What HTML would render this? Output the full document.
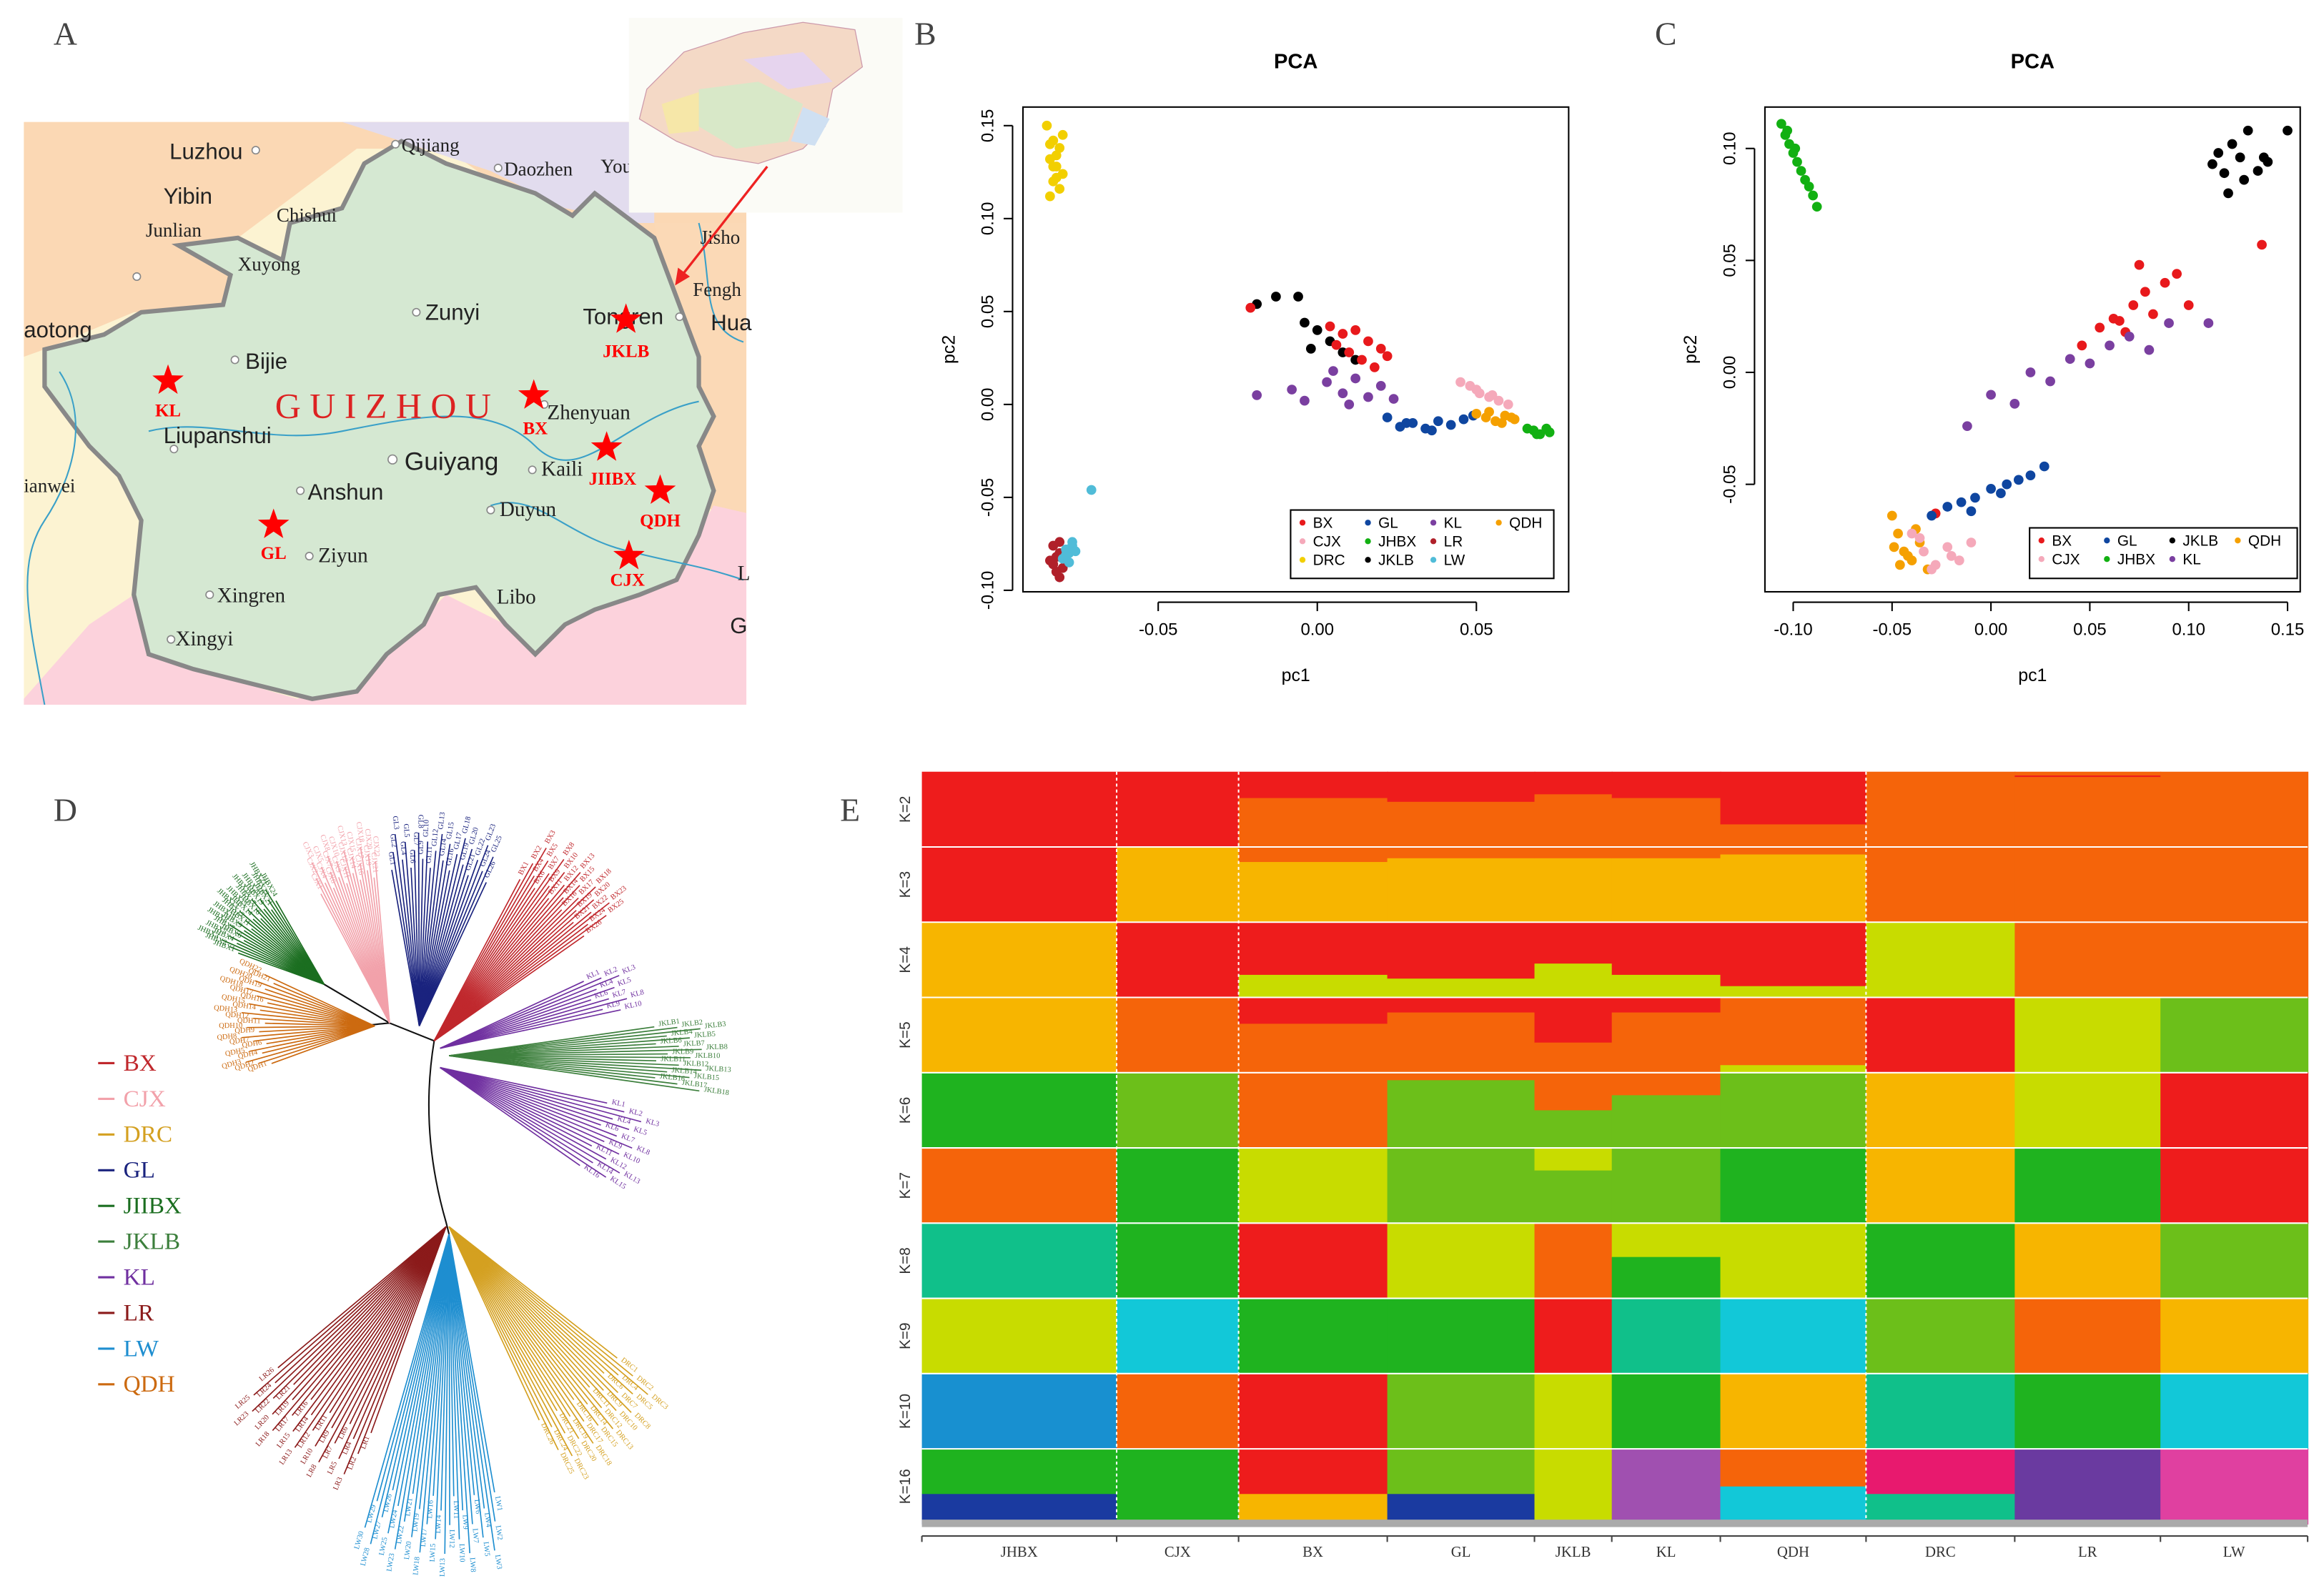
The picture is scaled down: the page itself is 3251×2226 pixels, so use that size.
<!DOCTYPE html>
<html><head><meta charset="utf-8">
<style>
html,body{margin:0;padding:0;background:#fff;}
svg{display:block;}
.ser{font-family:"Liberation Serif",serif;}
.san{font-family:"Liberation Sans",sans-serif;}
</style></head>
<body>
<svg id="fig" width="3251" height="2226" viewBox="0 0 1563 1070" preserveAspectRatio="none" xmlns="http://www.w3.org/2000/svg">
<rect x="0" y="0" width="1563" height="1070" fill="#fff"/>
<text class="ser" x="36" y="30" font-size="22" fill="#444">A</text>
<text class="ser" x="615" y="30" font-size="22" fill="#444">B</text>
<text class="ser" x="1113" y="30" font-size="22" fill="#444">C</text>
<text class="ser" x="36" y="552" font-size="22" fill="#444">D</text>
<text class="ser" x="565" y="552" font-size="22" fill="#444">E</text>

<g>
<clipPath id="mapclip"><rect x="16" y="82" width="486" height="392"/></clipPath>
<g clip-path="url(#mapclip)">
<rect x="16" y="82" width="486" height="392" fill="#fcf3d2"/>
<polygon points="16,82 502,82 502,300 440,200 300,100 240,100 160,160 150,205 90,210 30,235 16,240" fill="#fbd8b4"/>
<polygon points="230,82 440,82 440,150 430,150 380,140 330,115 270,95" fill="#e2dcee"/>
<polygon points="440,150 502,150 502,350 470,340 460,260" fill="#fbd9b6"/>
<polygon points="16,240 30,235 60,300 80,320 95,350 90,400 60,420 16,450" fill="#fcf3d2"/>
<polygon points="90,400 130,450 200,470 260,440 300,400 340,420 380,420 450,390 480,340 502,345 502,474 16,474 16,470 60,420" fill="#fcd2dc"/>
<polygon points="30,235 70,225 95,210 150,205 155,185 120,165 160,160 190,175 195,150 230,140 245,110 270,95 300,110 330,120 360,130 385,145 400,130 420,145 440,160 455,200 470,240 470,260 480,280 470,300 480,330 470,360 455,390 430,400 400,410 380,420 360,440 340,420 320,395 295,400 285,420 260,440 240,465 210,470 170,460 130,450 100,440 90,400 95,350 80,320 60,300 30,260" fill="#d5e8d2" stroke="#888" stroke-width="3"/>
<path d="M100,290 C140,280 180,300 230,290 S330,270 360,300 S420,280 470,270" fill="none" stroke="#3aa0c8" stroke-width="1"/>
<path d="M330,340 C360,330 380,360 420,370 S470,380 500,390" fill="none" stroke="#3aa0c8" stroke-width="1"/>
<path d="M470,150 C480,190 470,220 500,230" fill="none" stroke="#3aa0c8" stroke-width="1"/>
<path d="M40,250 C60,280 50,320 30,350 S20,420 30,474" fill="none" stroke="#3aa0c8" stroke-width="1"/>
</g>
<g class="ser" font-size="14" fill="#222">
<text x="114" y="107" class="san" font-size="15">Luzhou</text>
<text x="110" y="137" class="san" font-size="15">Yibin</text>
<text x="98" y="159" font-size="13">Junlian</text>
<text x="160" y="182" font-size="13">Xuyong</text>
<text x="186" y="149" font-size="13">Chishui</text>
<text x="270" y="102" font-size="13">Qijiang</text>
<text x="339" y="118" font-size="13">Daozhen</text>
<text x="404" y="116" font-size="13">You</text>
<text x="286" y="215" class="san" font-size="15">Zunyi</text>
<text x="392" y="218" class="san" font-size="15">Tongren</text>
<text x="471" y="164" font-size="13">Jisho</text>
<text x="466" y="199" font-size="13">Fengh</text>
<text x="478" y="222" class="san" font-size="15">Hua</text>
<text x="16" y="227" class="san" font-size="15">aotong</text>
<text x="165" y="248" class="san" font-size="15">Bijie</text>
<text x="110" y="298" class="san" font-size="15">Liupanshui</text>
<text x="272" y="316" class="san" font-size="17">Guiyang</text>
<text x="207" y="336" class="san" font-size="15">Anshun</text>
<text x="368" y="282" font-size="14">Zhenyuan</text>
<text x="364" y="320" font-size="14">Kaili</text>
<text x="336" y="347" font-size="14">Duyun</text>
<text x="214" y="378" font-size="14">Ziyun</text>
<text x="146" y="405" font-size="14">Xingren</text>
<text x="334" y="406" font-size="14">Libo</text>
<text x="118" y="434" font-size="14">Xingyi</text>
<text x="16" y="331" font-size="13">ianwei</text>
<text x="496" y="390" font-size="14">L</text>
<text x="491" y="426" class="san" font-size="15">G</text>
<text x="185" y="281" font-size="24" fill="#d22" letter-spacing="6">GUIZHOU</text>
</g>
<g fill="#fff" stroke="#888" stroke-width="0.8">
<circle cx="172" cy="101" r="2.5"/><circle cx="266" cy="97" r="2.5"/><circle cx="335" cy="113" r="2.5"/><circle cx="280" cy="210" r="2.5"/><circle cx="158" cy="242" r="2.5"/><circle cx="117" cy="302" r="2.5"/><circle cx="202" cy="330" r="2.5"/><circle cx="264" cy="309" r="3"/><circle cx="366" cy="272" r="2.5"/><circle cx="358" cy="316" r="2.5"/><circle cx="330" cy="343" r="2.5"/><circle cx="208" cy="374" r="2.5"/><circle cx="141" cy="400" r="2.5"/><circle cx="115" cy="430" r="2.5"/><circle cx="92" cy="186" r="2.5"/><circle cx="457" cy="213" r="2.5"/>
</g>
<g id="stars" font-family="Liberation Serif,serif" font-weight="bold" font-size="12" fill="#f00"></g>
<rect x="423" y="12" width="184" height="131" fill="#fbfbf6"/>
<path d="M435,60 L460,35 L500,22 L540,15 L575,20 L580,45 L560,60 L555,85 L540,100 L510,110 L480,105 L455,95 L430,80 Z" fill="#f4d9c6" stroke="#c9a" stroke-width="0.6"/>
<path d="M470,60 L510,55 L540,70 L530,95 L495,100 L470,85 Z" fill="#d8e8c8"/>
<path d="M500,40 L540,35 L560,55 L530,60 Z" fill="#e6d4ee"/>
<path d="M445,70 L470,62 L470,88 L450,90 Z" fill="#f6e7a8"/>
<path d="M540,72 L558,80 L548,98 L532,95 Z" fill="#cfe0f2"/>
<line x1="516" y1="112" x2="458" y2="186" stroke="#e22" stroke-width="1.6"/>
<polygon points="454,192 456,180 464,186" fill="#e22"/>
</g>

<g id="pcaB" class="san"></g>
<g id="pcaC" class="san"></g>
<g id="tree"></g>
<g id="treeLegend" class="ser"></g>
<g id="struct"></g>
</svg>
<script>
const NS="http://www.w3.org/2000/svg";
function mk(tag,attrs,parent,txt){const e=document.createElementNS(NS,tag);for(const k in attrs)e.setAttribute(k,attrs[k]);if(txt!==undefined)e.textContent=txt;parent.appendChild(e);return e;}

const starNames=["KL","GL","BX","JKLB","JIIBX","QDH","CJX"];
const starPos=[[113,256],[184,353],[359,266],[421,215],[408,301],[444,330],[423,374]];
const starLbl=[[113,280],[184,376],[360,292],[421,240],[412,326],[444,354],[422,394]];
(function(){const g=document.getElementById('stars');
starNames.forEach((n,i)=>{const [x,y]=starPos[i];let p=[];for(let k=0;k<10;k++){const r=k%2?4.5:11;const a=-Math.PI/2+k*Math.PI/5;p.push((x+r*Math.cos(a)).toFixed(1)+","+(y+r*Math.sin(a)).toFixed(1));}
const s=mk('polygon',{points:p.join(' '),fill:'#f00'},g);


const t=mk('text',{x:starLbl[i][0],y:starLbl[i][1],'text-anchor':'middle'},g,n);

});})();

const pcaGroups=["BX","CJX","DRC","GL","JHBX","JKLB","KL","LR","LW","QDH"];
const pcaColors={BX:"#e8191c",CJX:"#f5a9ba",DRC:"#f2cf00",GL:"#0f46a0",JHBX:"#12b012",JKLB:"#000",KL:"#7a3fa0",LR:"#b0202a",LW:"#50bcd8",QDH:"#f5a000"};
const pcaB_pc1={
DRC:[-0.085,-0.083,-0.081,-0.084,-0.082,-0.080,-0.083,-0.081,-0.084,-0.082,-0.080,-0.083,-0.082,-0.084],
LR:[-0.083,-0.081,-0.082,-0.084,-0.080,-0.082,-0.081,-0.083,-0.082,-0.081],
LW:[-0.079,-0.078,-0.077,-0.080,-0.076,-0.078,-0.077,-0.079,-0.071],
JKLB:[-0.019,-0.013,-0.006,-0.004,0.000,0.004,-0.002,0.008,0.012],
BX:[0.004,0.008,0.012,0.016,0.020,0.010,0.014,0.022,0.018,0.006,-0.021],
KL:[-0.019,-0.008,-0.004,0.003,0.008,0.012,0.016,0.020,0.024,0.010,0.005],
GL:[0.022,0.026,0.030,0.034,0.038,0.042,0.046,0.049,0.036,0.028],
CJX:[0.045,0.048,0.051,0.054,0.057,0.060,0.050,0.055],
QDH:[0.050,0.053,0.056,0.059,0.062,0.054,0.058,0.061],
JHBX:[0.066,0.068,0.070,0.072,0.073,0.069]};
const pcaB_pc2={
DRC:[0.150,0.142,0.138,0.132,0.128,0.124,0.120,0.116,0.112,0.134,0.145,0.128,0.122,0.140],
LR:[-0.076,-0.074,-0.082,-0.084,-0.088,-0.090,-0.093,-0.086,-0.090,-0.080],
LW:[-0.078,-0.080,-0.076,-0.083,-0.079,-0.085,-0.074,-0.081,-0.046],
JKLB:[0.054,0.058,0.058,0.044,0.040,0.034,0.030,0.028,0.024],
BX:[0.042,0.038,0.040,0.034,0.030,0.028,0.024,0.026,0.020,0.032,0.052],
KL:[0.005,0.008,0.002,0.012,0.006,0.014,0.004,0.010,0.003,0.000,0.018],
GL:[-0.007,-0.012,-0.010,-0.013,-0.009,-0.011,-0.008,-0.006,-0.014,-0.010],
CJX:[0.012,0.010,0.006,0.004,0.002,0.000,0.008,0.005],
QDH:[-0.005,-0.007,-0.009,-0.006,-0.008,-0.004,-0.010,-0.007],
JHBX:[-0.013,-0.014,-0.016,-0.013,-0.015,-0.016]};
const pcaB_xticks=[-0.05,0.00,0.05];
const pcaB_yticks=[-0.10,-0.05,0.00,0.05,0.10,0.15];
const pcaC_pc1={
JHBX:[-0.106,-0.104,-0.102,-0.100,-0.098,-0.096,-0.094,-0.092,-0.090,-0.088,-0.103,-0.099],
JKLB:[0.112,0.118,0.122,0.126,0.130,0.135,0.140,0.120,0.128,0.150,0.115,0.138],
BX:[0.046,0.055,0.062,0.068,0.072,0.078,0.082,0.088,0.094,0.100,0.075,0.065,0.137,-0.028],
KL:[-0.012,0.000,0.012,0.020,0.030,0.040,0.050,0.060,0.070,0.080,0.090,0.110],
GL:[-0.030,-0.022,-0.015,-0.008,0.000,0.008,0.014,0.020,0.027,-0.010,0.005],
QDH:[-0.050,-0.047,-0.044,-0.040,-0.036,-0.032,-0.046,-0.038,-0.042,-0.049],
CJX:[-0.040,-0.034,-0.028,-0.022,-0.016,-0.010,-0.030,-0.020,-0.036]};
const pcaC_pc2={
JHBX:[0.111,0.106,0.102,0.098,0.094,0.090,0.086,0.083,0.079,0.074,0.108,0.100],
JKLB:[0.093,0.089,0.102,0.096,0.108,0.090,0.094,0.080,0.086,0.108,0.098,0.096],
BX:[0.012,0.020,0.024,0.018,0.030,0.036,0.026,0.040,0.044,0.030,0.048,0.023,0.057,-0.063],
KL:[-0.024,-0.010,-0.014,0.000,-0.004,0.006,0.004,0.012,0.016,0.010,0.022,0.022],
GL:[-0.064,-0.060,-0.058,-0.056,-0.052,-0.050,-0.048,-0.046,-0.042,-0.062,-0.054],
QDH:[-0.064,-0.072,-0.080,-0.084,-0.076,-0.088,-0.086,-0.070,-0.082,-0.078],
CJX:[-0.072,-0.080,-0.086,-0.078,-0.084,-0.076,-0.088,-0.082,-0.074]};
const pcaC_xticks=[-0.10,-0.05,0.00,0.05,0.10,0.15];
const pcaC_yticks=[-0.05,0.00,0.05,0.10];

function drawPCA(gid,box,xs,ys,xt,yt,px,py,legend,legendBox,letter){
 const g=document.getElementById(gid);
 const X=v=>box.x0+(v-xs[0])/(xs[1]-xs[0])*(box.x1-box.x0);
 const Y=v=>box.y1-(v-ys[0])/(ys[1]-ys[0])*(box.y1-box.y0);
 const fr=mk('rect',{x:box.x0,y:box.y0,width:box.x1-box.x0,height:box.y1-box.y0,fill:'none',stroke:'#000','stroke-width':1},g);
 
 const tt=mk('text',{x:(box.x0+box.x1)/2,y:box.y0-26,'text-anchor':'middle','font-size':14,'font-weight':'bold'},g,'PCA');
 
 mk('line',{x1:X(xt[0]),x2:X(xt[xt.length-1]),y1:box.y1+7,y2:box.y1+7,stroke:'#000'},g);
 xt.forEach(v=>{mk('line',{x1:X(v),x2:X(v),y1:box.y1+7,y2:box.y1+13,stroke:'#000'},g);
  const t=mk('text',{x:X(v),y:box.y1+29,'text-anchor':'middle','font-size':11.5},g,v.toFixed(2));
  });
 mk('line',{y1:Y(yt[0]),y2:Y(yt[yt.length-1]),x1:box.x0-7,x2:box.x0-7,stroke:'#000'},g);
 yt.forEach(v=>{mk('line',{y1:Y(v),y2:Y(v),x1:box.x0-13,x2:box.x0-7,stroke:'#000'},g);
  const t=mk('text',{x:box.x0-20,y:Y(v),'text-anchor':'middle','font-size':11.5,transform:`rotate(-90 ${box.x0-20} ${Y(v)})`},g,v.toFixed(2));
  });
 const xl=mk('text',{x:(box.x0+box.x1)/2,y:box.y1+60,'text-anchor':'middle','font-size':12},g,'pc1');
 
 const yx=box.x0-46,yy=(box.y0+box.y1)/2;
 const yl=mk('text',{x:yx,y:yy,'text-anchor':'middle','font-size':12,transform:`rotate(-90 ${yx} ${yy})`},g,'pc2');
 
 for(const k in px){px[k].forEach((v,i)=>{const c=mk('circle',{cx:X(v),cy:Y(py[k][i]),r:3.3,fill:pcaColors[k]},g);
  });}
 const lb=mk('rect',{x:legendBox.x,y:legendBox.y,width:legendBox.w,height:legendBox.h,fill:'#fff',stroke:'#000'},g);
 
 legend.forEach((row,r)=>row.forEach((k,c)=>{const lx=legendBox.x+8+c*legendBox.cw,ly=legendBox.y+12+r*12.5;
  mk('circle',{cx:lx,cy:ly-3.5,r:2,fill:pcaColors[k]},g);
  const t=mk('text',{x:lx+7,y:ly,'font-size':10},g,k);
  }));
}
drawPCA('pcaB',{x0:688,x1:1055,y0:72,y1:398},[-0.0925,0.0790],[-0.1008,0.1600],pcaB_xticks,pcaB_yticks,pcaB_pc1,pcaB_pc2,
 [["BX","GL","KL","QDH"],["CJX","JHBX","LR"],["DRC","JKLB","LW"]],{x:868,y:343,w:177,h:46,cw:44},'pca-b');
drawPCA('pcaC',{x0:1187,x1:1547,y0:72,y1:398},[-0.1143,0.1564],[-0.0980,0.1185],pcaC_xticks,pcaC_yticks,pcaC_pc1,pcaC_pc2,
 [["BX","GL","JKLB","QDH"],["CJX","JHBX","KL"]],{x:1365,y:355,w:180,h:34,cw:44},'pca-c');

const treeGroups=["BX","CJX","DRC","GL","JHBX","JKLB","KL","LR","LW","QDH"];
const treeColors={BX:"#c0282d",CJX:"#f2a1aa",DRC:"#d4a020",GL:"#1a237e",JHBX:"#1b6e20",JKLB:"#3c7f3c",KL:"#7030a0",LR:"#8b1a1a",LW:"#1e8ed0",QDH:"#cc6a10"};
const clades=[
 ["CJX",262,688,-118,-95,120,22],["JHBX",218,662,-160,-120,75,24],["GL",282,690,-100,-65,130,26],
 ["BX",292,700,-62,-35,150,26],["KL",296,705,-25,-12,130,10],["JKLB",302,710,-8,8,170,18],
 ["KL",296,718,12,35,140,16],["QDH",252,690,160,205,90,22],["LR",300,825,110,140,180,26],
 ["LW",302,830,80,106,215,30],["DRC",302,825,38,65,175,26]];
(function(){const g=document.getElementById('tree');
 const bb=mk('path',{d:'M262,688 Q240,690 252,690 M218,662 L262,688 L292,700 Q282,760 300,822 L302,830',fill:'none',stroke:'#111','stroke-width':1},g);
 
 clades.forEach(cl=>{const [n,ox,oy,a0,a1,R,cnt]=cl;const col=treeColors[n];
  for(let i=0;i<cnt;i++){const a=(a0+(a1-a0)*i/(cnt-1))*Math.PI/180;const rr=R*(0.82+0.18*((i*7)%5)/4);
   const tx=ox+rr*Math.cos(a),ty=oy+rr*Math.sin(a);
   const l=mk('line',{x1:ox,y1:oy,x2:tx,y2:ty,stroke:col,'stroke-width':0.8},g);
   
   const deg=a*180/Math.PI;const flip=Math.cos(a)<0;
   const lx=ox+(rr+3)*Math.cos(a),ly=oy+(rr+3)*Math.sin(a);
   const t=mk('text',{x:lx,y:ly,'font-size':5,fill:col,'font-family':'Liberation Serif,serif','text-anchor':flip?'end':'start',transform:`rotate(${flip?deg+180:deg} ${lx} ${ly})`},g,n+(i+1));
   }});
 const lg=document.getElementById('treeLegend');
 treeGroups.forEach((n,i)=>{const y=720+i*24;mk('line',{x1:66,x2:77,y1:y-5,y2:y-5,stroke:treeColors[n],'stroke-width':1.5},lg);
  const t=mk('text',{x:83,y:y,'font-size':16,fill:treeColors[n]},lg,n==="JHBX"?"JIIBX":n);
  });
})();

const structPops=["JHBX","CJX","BX","GL","JKLB","KL","QDH","DRC","LR","LW"];
const structBounds=[620,751,833,933,1032,1084,1157,1255,1355,1453,1552];
const structK=["K=2","K=3","K=4","K=5","K=6","K=7","K=8","K=9","K=10","K=16"];
const R="#ee1c1c",O="#f5640a",Y="#f7b500",YG="#c8dc00",G="#1fb31f",LG="#6cbf1a",T="#10c08a",C="#12c8d8",B="#1890d0",P="#a050b0",DB="#1a3aa0",PK="#e8196e",PU="#6a3aa0",M="#e040a0";
const structRows=[
 [[[R,1]],[[R,1]],[[R,.35],[O,.65]],[[R,.4],[O,.6]],[[R,.3],[O,.7]],[[R,.35],[O,.65]],[[R,.7],[O,.3]],[[O,1]],[[O,.05],[R,.02],[O,.93]],[[O,1]]],
 [[[R,1]],[[Y,1]],[[O,.2],[Y,.8]],[[O,.15],[Y,.85]],[[O,.15],[Y,.85]],[[O,.15],[Y,.85]],[[O,.1],[Y,.9]],[[O,1]],[[O,1]],[[O,1]]],
 [[[Y,1]],[[R,1]],[[R,.7],[YG,.3]],[[R,.75],[YG,.25]],[[R,.55],[YG,.45]],[[R,.7],[YG,.3]],[[R,.85],[YG,.15]],[[YG,1]],[[O,1]],[[O,1]]],
 [[[Y,1]],[[O,1]],[[R,.35],[O,.65]],[[R,.2],[O,.8]],[[R,.6],[O,.4]],[[R,.2],[O,.8]],[[O,.9],[YG,.1]],[[R,1]],[[YG,1]],[[LG,1]]],
 [[[G,1]],[[LG,1]],[[O,1]],[[O,.1],[LG,.9]],[[O,.5],[LG,.5]],[[O,.3],[LG,.7]],[[LG,1]],[[Y,1]],[[YG,1]],[[R,1]]],
 [[[O,1]],[[G,1]],[[YG,1]],[[LG,1]],[[YG,.3],[LG,.7]],[[LG,1]],[[G,1]],[[Y,1]],[[G,1]],[[R,1]]],
 [[[T,1]],[[G,1]],[[R,1]],[[YG,1]],[[O,1]],[[YG,.45],[G,.55]],[[YG,1]],[[G,1]],[[Y,1]],[[LG,1]]],
 [[[YG,1]],[[C,1]],[[G,1]],[[G,1]],[[R,1]],[[T,1]],[[C,1]],[[LG,1]],[[O,1]],[[Y,1]]],
 [[[B,1]],[[O,1]],[[R,1]],[[LG,1]],[[YG,1]],[[G,1]],[[Y,1]],[[T,1]],[[G,1]],[[C,1]]],
 [[[G,.6],[DB,.4]],[[G,1]],[[R,.6],[Y,.4]],[[LG,.6],[DB,.4]],[[YG,1]],[[P,1]],[[O,.5],[C,.5]],[[PK,.6],[T,.4]],[[PU,1]],[[M,1]]]];
(function(){const g=document.getElementById('struct');const top=519,rh=50.6;
 structRows.forEach((row,r)=>{const y0=top+r*rh;
  row.forEach((segs,p)=>{let y=y0;const x0=structBounds[p],w=structBounds[p+1]-x0;
   segs.forEach(([c,f])=>{const h=f*rh;const e=mk('rect',{x:x0,y:y,width:w+0.5,height:h+0.3,fill:c},g);
    y+=h;});});
  if(r>0)mk('line',{x1:620,x2:1552,y1:y0,y2:y0,stroke:'#fff','stroke-width':1},g);
  const ly=y0+rh/2;const t=mk('text',{x:612,y:ly,'text-anchor':'middle','font-size':10,'font-family':'Liberation Sans,sans-serif',fill:'#333',transform:`rotate(-90 612 ${ly})`},g,structK[r]);
  });
 [751,833,1255].forEach(x=>mk('line',{x1:x,x2:x,y1:519,y2:1025,stroke:'#fff','stroke-width':1,'stroke-dasharray':'2,2'},g));
 mk('rect',{x:620,y:1022,width:932,height:5,fill:'#aaa'},g);
 mk('line',{x1:620,x2:1552,y1:1033,y2:1033,stroke:'#444'},g);
 structBounds.forEach(x=>mk('line',{x1:x,x2:x,y1:1033,y2:1037,stroke:'#444'},g));
 structPops.forEach((n,i)=>{const t=mk('text',{x:(structBounds[i]+structBounds[i+1])/2,y:1047,'text-anchor':'middle','font-size':10,'font-family':'Liberation Serif,serif',fill:'#333'},g,n);
  });
})();
</script>
</body></html>
